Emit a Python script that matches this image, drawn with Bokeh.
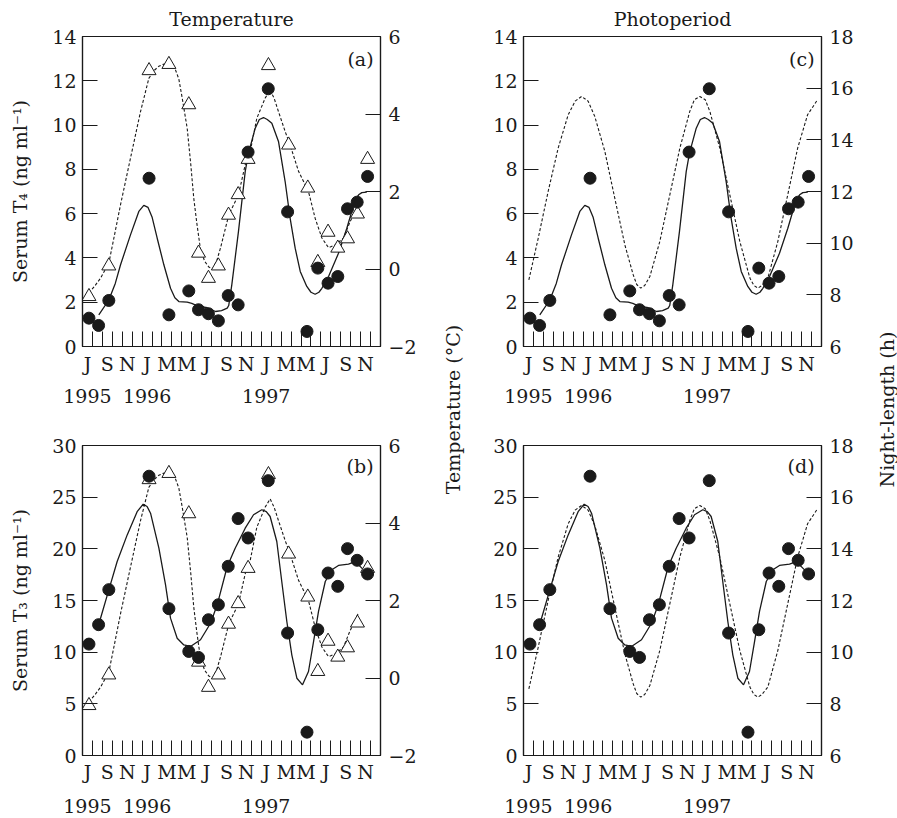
import math
from bokeh.plotting import figure
from bokeh.models import Range1d, LinearAxis, FixedTicker, Label
from bokeh.layouts import row, column
from bokeh.embed import file_html
from bokeh.resources import INLINE

FONT = "DejaVu Serif"
FS = "19px"
INK = "#1a1a1a"

# x axis: months counted from 1 July 1995 (0) to 31 December 1997 (30)
month_edges = [0, 1, 2, 3, 4, 5, 6, 7, 8, 9, 10, 11, 12, 13, 14, 15,
               16, 17, 18, 19, 20, 21, 22, 23, 24, 25, 26, 27, 28, 29, 30]
month_label_pos = [0.5, 2.5, 4.5, 6.5, 8.5, 10.5, 12.5, 14.5, 16.5, 18.5,
                   20.5, 22.5, 24.5, 26.5, 28.5]
month_labels = ["J", "S", "N", "J", "M", "M", "J", "S", "N", "J", "M", "M", "J", "S", "N"]
year_label_pos = [0.5, 6.5, 18.5]
year_labels = ["1995", "1996", "1997"]

# sampling dates (months since 1 July 1995)
sample_month = [0.65, 1.62, 2.65, 6.7, 8.7, 10.7, 11.68, 12.68, 13.68, 14.67, 15.67,
                16.67, 18.7, 20.65, 22.6, 23.69, 24.72, 25.7, 26.68, 27.65, 28.7]
serum_t4 = [1.28, 0.95, 2.08, 7.6, 1.43, 2.51, 1.66, 1.48, 1.16, 2.30, 1.88,
            8.78, 11.64, 6.08, 0.68, 3.54, 2.86, 3.16, 6.22, 6.52, 7.68]
serum_t3 = [10.78, 12.66, 16.05, 27.03, 14.21, 10.07, 9.49, 13.14, 14.59, 18.31, 22.93,
            21.05, 26.6, 11.85, 2.26, 12.17, 17.66, 16.37, 20.02, 18.89, 17.57]

temp_month = [0.65, 2.65, 6.7, 8.7, 10.7, 11.68, 12.68, 13.68, 14.7, 15.67,
              16.67, 18.72, 20.75, 22.68, 23.69, 24.72, 25.7, 26.68, 27.68, 28.7]
temperature = [-0.71, 0.08, 5.12, 5.28, 4.24, 0.41, -0.24, 0.08, 1.39, 1.92,
               2.83, 5.25, 3.2, 2.09, 0.17, 0.95, 0.54, 0.78, 1.42, 2.83]

# fitted serum T4 curve (solid, panels a and c)
t4_fit_month = [1.64, 2.65, 3.3, 3.83, 4.83, 5.67, 6.17, 6.6, 7.0, 7.52, 8.19, 8.86, 9.3,
                9.7, 10.54, 11.0, 11.5, 12.0, 12.55, 13.39, 14.0, 14.57, 14.72, 15.03,
                15.7, 16.38, 16.71, 17.39, 17.8, 18.22, 18.6, 19.06, 19.73, 20.4, 20.9,
                21.41, 21.92, 22.58, 23.0, 23.42, 23.8, 24.1, 24.77, 25.77, 26.61, 27.45,
                27.8, 28.12, 28.62]
t4_fit = [1.43, 2.10, 2.85, 3.69, 5.04, 6.10, 6.37, 6.28, 5.85, 4.89, 3.69, 2.63, 2.2,
          2.03, 2.0, 1.95, 1.85, 1.80, 1.75, 1.58, 1.62, 1.73, 1.85, 2.78,
          5.19, 7.9, 8.73, 9.86, 10.25, 10.34, 10.25, 10.08, 9.26, 7.45, 5.8,
          4.44, 3.39, 2.71, 2.45, 2.36, 2.45, 2.63, 3.16, 4.21, 5.34, 6.62,
          6.85, 6.95, 6.97]

# fitted serum T3 curve (solid, panels b and d)
t3_fit_month = [1.64, 2.65, 3.49, 4.5, 5.5, 6.11, 6.5, 6.85, 7.69, 8.36, 8.86, 9.53, 10.2,
                10.87, 11.88, 12.89, 13.56, 14.57, 15.37, 16.38, 17.22, 18.05, 18.5, 18.89,
                19.56, 20.06, 20.57, 21.07, 21.58, 22.15, 22.75, 23.26, 23.76, 24.44, 25.1,
                25.77, 26.78, 27.45, 28.12, 28.62]
t3_fit = [12.7, 16.03, 18.77, 21.35, 23.6, 24.32, 24.1, 23.45, 20.06, 16.52, 13.29, 11.35, 10.7,
          10.55, 11.2, 12.8, 14.58, 18.29, 20.06, 22.0, 23.3, 23.78, 23.6, 23.13,
          20.71, 16.84, 12.97, 9.74, 7.48, 6.84, 8.13, 11.03, 13.94, 16.84, 17.97,
          18.39, 18.52, 18.77, 18.13, 17.65]

# temperature curve (dashed, panels a and b)
temp_curve_month = [0.64, 1.2, 1.81, 2.65, 3.2, 3.83, 4.83, 5.84, 6.68, 7.2, 7.68, 8.1, 8.52,
                    9.0, 9.36, 9.7, 10.04, 10.54, 10.9, 11.2, 11.5, 11.88, 12.3, 12.72, 13.1,
                    13.5, 13.89, 14.73, 15.7, 16.38, 16.88, 17.55, 18.39, 18.89, 19.3, 19.73,
                    20.4, 20.9, 21.75, 22.75, 23.42, 24.1, 24.77, 25.44, 26.28, 26.95, 27.45,
                    27.8]
temp_curve = [-0.62, -0.45, -0.24, 0.15, 0.85, 1.66, 2.86, 4.06, 4.92, 5.12, 5.23, 5.28, 5.29,
              5.24, 5.14, 4.9, 4.41, 3.63, 2.7, 1.83, 1.2, 0.5, 0.2, 0.05, 0.0,
              0.2, 0.54, 1.40, 1.91, 2.69, 3.03, 3.89, 4.41, 4.62, 4.4, 4.06,
              3.55, 3.2, 2.52, 2.0, 1.31, 0.80, 0.55, 0.62, 0.80, 1.23, 1.48,
              1.70]

# night-length curve (dashed, panels c and d)
night_month = [0.54, 1.48, 2.48, 3.49, 4.5, 5.2, 5.84, 6.5, 7.18, 8.19, 9.19, 10.2, 11.04,
               11.4, 11.81, 12.2, 12.72, 13.72, 14.73, 15.74, 16.74, 17.2, 17.75, 18.3,
               18.76, 19.76, 20.77, 21.78, 22.79, 23.2, 23.6, 24.0, 24.6, 25.6, 26.6,
               27.6, 28.6, 29.6]
night_length = [8.58, 10.19, 12.0, 13.68, 14.97, 15.5, 15.68, 15.5, 14.9, 13.55, 11.74, 9.94, 8.78,
                8.4, 8.26, 8.36, 8.71, 10.06, 11.87, 13.68, 15.1, 15.55, 15.68, 15.55,
                15.1, 13.68, 11.87, 10.06, 8.65, 8.36, 8.26, 8.36, 8.65, 10.06, 11.87,
                13.68, 14.97, 15.55]

t4_ticks = [0, 2, 4, 6, 8, 10, 12, 14]
t3_ticks = [0, 5, 10, 15, 20, 25, 30]
temp_ticks = [-2, 0, 2, 4, 6]
night_ticks = [6, 8, 10, 12, 14, 16, 18]


def style_axis(ax, standoff):
    ax.major_label_text_font = FONT
    ax.major_label_text_font_size = FS
    ax.major_label_text_color = INK
    ax.major_label_standoff = standoff
    ax.axis_line_color = INK
    ax.axis_line_width = 1.2
    ax.major_tick_line_color = INK
    ax.major_tick_in = 15
    ax.major_tick_out = 0
    ax.minor_tick_line_color = None


def panel(left_rng, left_ticks, right_rng, right_ticks, bl, bt, bb, br,
          ylabel=None, title=None, tag="", tag_y=0.0, ms=6, ys=11):
    p = figure(frame_width=298, frame_height=310,
               x_range=Range1d(0, 30), y_range=Range1d(*left_rng),
               x_axis_type=None, y_axis_type=None,
               toolbar_location=None, output_backend="svg",
               min_border_left=bl, min_border_right=br,
               min_border_top=bt, min_border_bottom=bb,
               background_fill_color="white", border_fill_color="white")
    p.outline_line_color = INK
    p.outline_line_width = 1.2
    p.extra_y_ranges = {"right": Range1d(*right_rng)}
    if title:
        p.title.text = title
        p.title.align = "center"
        p.title.vertical_align = "middle"
        p.title.text_font = FONT
        p.title.text_font_size = FS
        p.title.text_font_style = "normal"
        p.title.text_color = INK
        p.title.standoff = 12

    yl = LinearAxis(ticker=FixedTicker(ticks=left_ticks))
    style_axis(yl, 6)
    if ylabel:
        yl.axis_label = ylabel
        yl.axis_label_text_font = FONT
        yl.axis_label_text_font_size = FS
        yl.axis_label_text_font_style = "normal"
        yl.axis_label_text_color = INK
        yl.axis_label_standoff = 18
    p.add_layout(yl, "left")

    yr = LinearAxis(y_range_name="right", ticker=FixedTicker(ticks=right_ticks),
                    major_label_overrides={t: str(t).replace("-", "\u2212") for t in right_ticks})
    style_axis(yr, 8)
    p.add_layout(yr, "right")

    xm = LinearAxis(ticker=FixedTicker(ticks=month_label_pos, minor_ticks=month_edges),
                    major_label_overrides=dict(zip(month_label_pos, month_labels)))
    style_axis(xm, ms)
    xm.major_tick_line_color = None
    xm.minor_tick_line_color = INK
    xm.minor_tick_in = 15
    xm.minor_tick_out = 0
    p.add_layout(xm, "below")

    xy = LinearAxis(ticker=FixedTicker(ticks=year_label_pos),
                    major_label_overrides=dict(zip(year_label_pos, year_labels)))
    style_axis(xy, ys)
    xy.axis_line_color = None
    xy.major_tick_line_color = None
    p.add_layout(xy, "below")

    p.add_layout(Label(x=29.3, y=tag_y, text=tag, text_align="right",
                       text_baseline="middle", text_font=FONT,
                       text_font_size=FS, text_color=INK))
    return p


# (a) T4 vs temperature
pa = panel((0, 14), t4_ticks, (-2, 6), temp_ticks, 82, 35, 62, 38,
           ylabel="Serum T\u2084 (ng ml\u207b\u00b9)", title="Temperature", tag="(a)",
           tag_y=13.0, ms=6, ys=11)
pa.line(temp_curve_month, temp_curve, y_range_name="right", line_color=INK,
        line_width=1.1, line_dash="3 2")
pa.line(t4_fit_month, t4_fit, line_color=INK, line_width=1.3)
pa.scatter(temp_month, temperature, y_range_name="right", marker="triangle", size=14,
           fill_color="white", line_color=INK, line_width=1)
pa.scatter(sample_month, serum_t4, size=12, fill_color=INK, line_color=INK)

# (b) T3 vs temperature
pb = panel((0, 30), t3_ticks, (-2, 6), temp_ticks, 82, 37, 64, 38,
           ylabel="Serum T\u2083 (ng ml\u207b\u00b9)", tag="(b)", tag_y=28.0, ms=5, ys=13)
pb.line(temp_curve_month, temp_curve, y_range_name="right", line_color=INK,
        line_width=1.1, line_dash="3 2")
pb.line(t3_fit_month, t3_fit, line_color=INK, line_width=1.3)
pb.scatter(temp_month, temperature, y_range_name="right", marker="triangle", size=14,
           fill_color="white", line_color=INK, line_width=1)
pb.scatter(sample_month, serum_t3, size=12, fill_color=INK, line_color=INK)

# (c) T4 vs photoperiod
pc = panel((0, 14), t4_ticks, (6, 18), night_ticks, 56, 35, 62, 34,
           title="Photoperiod", tag="(c)", tag_y=13.0, ms=6, ys=11)
pc.line(night_month, night_length, y_range_name="right", line_color=INK,
        line_width=1.1, line_dash="3 2")
pc.line(t4_fit_month, t4_fit, line_color=INK, line_width=1.3)
pc.scatter(sample_month, serum_t4, size=12, fill_color=INK, line_color=INK)

# (d) T3 vs photoperiod
pd_ = panel((0, 30), t3_ticks, (6, 18), night_ticks, 56, 37, 64, 34,
            tag="(d)", tag_y=28.0, ms=5, ys=13)
pd_.line(night_month, night_length, y_range_name="right", line_color=INK,
         line_width=1.1, line_dash="3 2")
pd_.line(t3_fit_month, t3_fit, line_color=INK, line_width=1.3)
pd_.scatter(sample_month, serum_t3, size=12, fill_color=INK, line_color=INK)


def label_strip(width, text, xfrac):
    f = figure(width=width, height=818, x_range=Range1d(0, 1), y_range=Range1d(0, 1),
               x_axis_type=None, y_axis_type=None, toolbar_location=None,
               output_backend="svg", min_border=0, outline_line_color=None,
               background_fill_color="white", border_fill_color="white")
    f.add_layout(Label(x=xfrac, y=0.5, text=text, angle=math.pi / 2,
                       text_align="center", text_baseline="middle",
                       text_font=FONT, text_font_size=FS, text_color=INK))
    return f


mid = label_strip(48, "Temperature (\u00b0C)", 0.708)
right = label_strip(43, "Night-length (h)", 0.72)

layout = row(column(pa, pb), mid, column(pc, pd_), right)

open("out.html", "w").write(file_html(layout, INLINE))
